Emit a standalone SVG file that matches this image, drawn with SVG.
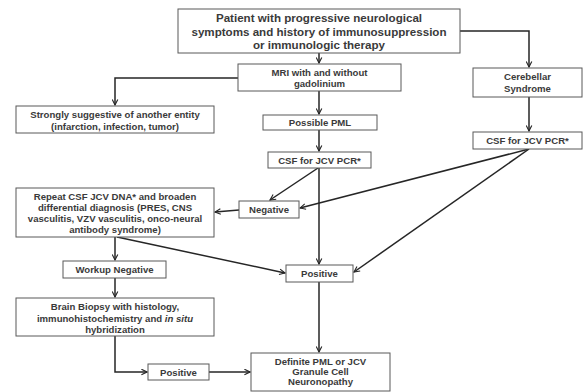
<svg xmlns="http://www.w3.org/2000/svg" width="584" height="392" viewBox="0 0 584 392">
<style>
.box{fill:#fff;stroke:#595959;stroke-width:1}
.t{font-family:"Liberation Sans",Arial,sans-serif;font-weight:bold;fill:#3a3a3a;text-anchor:middle;font-size:9.6px}
.big{font-size:11.6px}
.c{fill:none;stroke:#262626;stroke-width:1.5}
</style>
<defs>
<marker id="a" viewBox="0 0 10 10" refX="9" refY="5" markerWidth="7" markerHeight="7" orient="auto" markerUnits="userSpaceOnUse">
<path d="M1,1 L9,5 L1,9" fill="none" stroke="#262626" stroke-width="1.6"/>
</marker>
</defs>
<rect width="584" height="392" fill="#fff"/>
<g id="connectors">
<path class="c" d="M319,53 V63" marker-end="url(#a)"/>
<path class="c" d="M460,31 H529 V67" marker-end="url(#a)"/>
<path class="c" d="M238,78 H115 V105" marker-end="url(#a)"/>
<path class="c" d="M319,91 V114" marker-end="url(#a)"/>
<path class="c" d="M319,130 V151" marker-end="url(#a)"/>
<path class="c" d="M529,97 V131" marker-end="url(#a)"/>
<path class="c" d="M318,168 L270,200" marker-end="url(#a)"/>
<path class="c" d="M319,168 V264" marker-end="url(#a)"/>
<path class="c" d="M529,149 L300,208" marker-end="url(#a)"/>
<path class="c" d="M529,149 L354,272" marker-end="url(#a)"/>
<path class="c" d="M239,210 L215,212" marker-end="url(#a)"/>
<path class="c" d="M115,237 V260" marker-end="url(#a)"/>
<path class="c" d="M117,237 L285,273" marker-end="url(#a)"/>
<path class="c" d="M115,278 V297" marker-end="url(#a)"/>
<path class="c" d="M115,336 V372 H147" marker-end="url(#a)"/>
<path class="c" d="M209,372 H250" marker-end="url(#a)"/>
<path class="c" d="M319,282 V352" marker-end="url(#a)"/>
</g>
<g id="patient">
<rect class="box" x="178" y="9" width="282" height="44"/>
<text class="t big" x="319" y="21.5">Patient with progressive neurological</text>
<text class="t big" x="319" y="35.5">symptoms and history of immunosuppression</text>
<text class="t big" x="319" y="49">or immunologic therapy</text>
</g>
<g id="mri">
<rect class="box" x="238" y="64" width="163" height="27"/>
<text class="t" x="319.5" y="75.5">MRI with and without</text>
<text class="t" x="319.5" y="86.5">gadolinium</text>
</g>
<g id="cerebellar">
<rect class="box" x="473" y="68" width="109" height="29"/>
<text class="t" x="527.5" y="79.5">Cerebellar</text>
<text class="t" x="527.5" y="91.5">Syndrome</text>
</g>
<g id="another">
<rect class="box" x="16" y="106" width="198" height="27"/>
<text class="t" x="115" y="117.5">Strongly suggestive of another entity</text>
<text class="t" x="115" y="129.5">(infarction, infection, tumor)</text>
</g>
<g id="possible">
<rect class="box" x="263" y="115" width="114" height="15"/>
<text class="t" x="320" y="126">Possible PML</text>
</g>
<g id="csf-left">
<rect class="box" x="268" y="152" width="103" height="16"/>
<text class="t" x="319.5" y="163.5">CSF for JCV PCR*</text>
</g>
<g id="csf-right">
<rect class="box" x="473" y="132" width="109" height="17"/>
<text class="t" x="527.5" y="144">CSF for JCV PCR*</text>
</g>
<g id="repeat">
<rect class="box" x="16" y="188" width="198" height="49"/>
<text class="t" x="115" y="199.5">Repeat CSF JCV DNA* and broaden</text>
<text class="t" x="115" y="210.5">differential diagnosis (PRES, CNS</text>
<text class="t" x="115" y="221.5">vasculitis, VZV vasculitis, onco-neural</text>
<text class="t" x="115" y="232.5">antibody syndrome)</text>
</g>
<g id="negative">
<rect class="box" x="239" y="201" width="60" height="17"/>
<text class="t" x="269" y="213">Negative</text>
</g>
<g id="positive">
<rect class="box" x="286" y="265" width="67" height="17"/>
<text class="t" x="319.5" y="277">Positive</text>
</g>
<g id="workup">
<rect class="box" x="63" y="261" width="103" height="17"/>
<text class="t" x="114.5" y="273">Workup Negative</text>
</g>
<g id="biopsy">
<rect class="box" x="16" y="298" width="198" height="38"/>
<text class="t" x="115" y="309.5">Brain Biopsy with histology,</text>
<text class="t" x="115" y="321.5">immunohistochemistry and <tspan font-style="italic">in situ</tspan></text>
<text class="t" x="115" y="333">hybridization</text>
</g>
<g id="positive2">
<rect class="box" x="148" y="364" width="61" height="16"/>
<text class="t" x="178.5" y="375.5">Positive</text>
</g>
<g id="definite">
<rect class="box" x="251" y="353" width="139" height="38"/>
<text class="t" x="320.5" y="364.5">Definite PML or JCV</text>
<text class="t" x="320.5" y="374.5">Granule Cell</text>
<text class="t" x="320.5" y="384.5">Neuronopathy</text>
</g>
</svg>
